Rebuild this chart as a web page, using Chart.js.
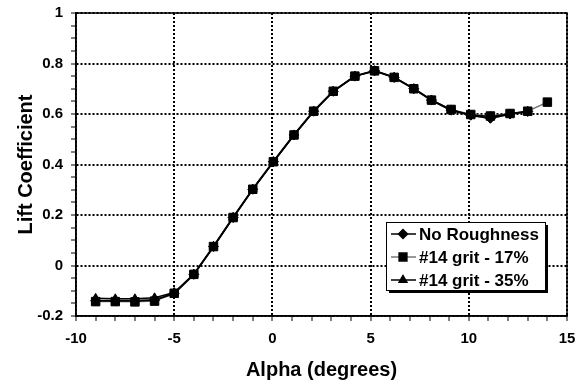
<!DOCTYPE html>
<html>
<head>
<meta charset="utf-8">
<script src="https://cdn.jsdelivr.net/npm/chart.js@4"></script>
<style>
  html, body { margin: 0; padding: 0; background: #fff; }
  #wrap { width: 579px; height: 385px; }
</style>
</head>
<body>
<div id="wrap"><canvas id="chartLift"></canvas></div>
<script>
// ===============================
// Data
// ===============================

const alphaNoRough = [-9, -8, -7, -6, -5, -4, -3, -2, -1, 0.05, 1.1, 2.1, 3.1, 4.2, 5.2, 6.2, 7.2, 8.1, 9.1, 10.1, 11.1, 12.1, 13.0];
const clNoRough    = [-0.14, -0.14, -0.14, -0.137, -0.11, -0.035, 0.075, 0.19, 0.302, 0.411, 0.517, 0.611, 0.69, 0.75, 0.771, 0.745, 0.70, 0.655, 0.615, 0.595, 0.583, 0.60, 0.61];

const alphaGrit17 = [-9, -8, -7, -6, -5, -4, -3, -2, -1, 0.05, 1.1, 2.1, 3.1, 4.2, 5.2, 6.2, 7.2, 8.1, 9.1, 10.1, 11.1, 12.1, 13.0, 14.0];
const clGrit17    = [-0.143, -0.143, -0.144, -0.141, -0.11, -0.035, 0.075, 0.19, 0.302, 0.411, 0.517, 0.611, 0.69, 0.75, 0.771, 0.745, 0.70, 0.655, 0.618, 0.598, 0.592, 0.602, 0.611, 0.647];

const alphaGrit35 = [-9, -8, -7, -6, -5, -4, -3, -2, -1, 0.05, 1.1, 2.1, 3.1, 4.2, 5.2, 6.2, 7.2, 8.1, 9.1, 10.1, 11.1, 12.1, 13.0];
const clGrit35    = [-0.13, -0.132, -0.132, -0.128, -0.107, -0.035, 0.075, 0.19, 0.302, 0.411, 0.517, 0.611, 0.69, 0.75, 0.771, 0.745, 0.70, 0.655, 0.616, 0.596, 0.59, 0.60, 0.61];

const seriesLabels = ["No Roughness", "#14 grit - 17%", "#14 grit - 35%"];

// axis range, major (labelled) steps and minor tick steps
const xRange = [-10, 15];
const xMajor = 5;
const xMinor = 1;
const yRange = [-0.2, 1];
const yMajor = 0.2;
const yMinor = 0.05;

const toPoints = (xs, ys) => xs.map((x, i) => ({ x: x, y: ys[i] }));
const isMajor = (v, step) => Math.abs(v / step - Math.round(v / step)) < 1e-6;

const FONT = "'Liberation Sans', Arial, sans-serif";

// ===============================
// Plugins: frame + legend box
// ===============================

const frame = {
    id: "frame",
    afterDatasetsDraw(chart) {
        const { ctx, chartArea: a } = chart;
        ctx.save();
        ctx.strokeStyle = "#000";
        ctx.lineWidth = 1.5;
        ctx.strokeRect(a.left, a.top, a.right - a.left, a.bottom - a.top);
        ctx.restore();
    }
};

const legendBox = {
    id: "legendBox",
    afterDraw(chart) {
        const { ctx, chartArea: a } = chart;
        const w = 159, h = 68;
        const x = a.right - 181;
        const y = a.bottom - 94;
        ctx.save();
        ctx.fillStyle = "#000";
        ctx.fillRect(x + 3, y + 3, w, h);
        ctx.fillStyle = "#fff";
        ctx.fillRect(x, y, w, h);
        ctx.strokeStyle = "#000";
        ctx.lineWidth = 1;
        ctx.strokeRect(x + 0.5, y + 0.5, w, h);

        chart.data.datasets.forEach((ds, i) => {
            const cy = y + 12 + i * 23;
            ctx.strokeStyle = ds.borderColor;
            ctx.lineWidth = 1.5;
            ctx.beginPath();
            ctx.moveTo(x + 5, cy);
            ctx.lineTo(x + 30, cy);
            ctx.stroke();
            ctx.fillStyle = "#000";
            ctx.strokeStyle = "#000";
            Chart.helpers.drawPoint(ctx, {
                pointStyle: ds.pointStyle,
                radius: ds.pointRadius - 0.5,
                rotation: 0,
                borderWidth: 1
            }, x + 17, cy);
            ctx.fillStyle = "#000";
            ctx.font = "bold 17px " + FONT;
            ctx.textBaseline = "middle";
            ctx.textAlign = "left";
            ctx.fillText(ds.label, x + 33, cy + 1);
        });
        ctx.restore();
    }
};

// ===============================
// Grafik
// ===============================

const ctx = document.getElementById("chartLift");

new Chart(ctx, {
    type: "line",
    data: {
        datasets: [
            {
                label: seriesLabels[0],
                data: toPoints(alphaNoRough, clNoRough),
                borderColor: "#000",
                backgroundColor: "#000",
                borderWidth: 2,
                pointStyle: "rectRot",
                pointRadius: 5,
                pointBorderWidth: 1,
                order: 1
            },
            {
                label: seriesLabels[1],
                data: toPoints(alphaGrit17, clGrit17),
                borderColor: "#777",
                backgroundColor: "#000",
                pointBorderColor: "#000",
                borderWidth: 1.5,
                pointStyle: "rect",
                pointRadius: 6,
                pointBorderWidth: 1,
                order: 2
            },
            {
                label: seriesLabels[2],
                data: toPoints(alphaGrit35, clGrit35),
                borderColor: "#000",
                backgroundColor: "#000",
                borderWidth: 1.5,
                pointStyle: "triangle",
                pointRadius: 5,
                pointBorderWidth: 1,
                order: 0
            }
        ]
    },
    options: {
        responsive: true,
        maintainAspectRatio: false,
        animation: false,
        layout: {
            padding: { top: 13, right: 12, left: 0, bottom: 0 }
        },
        plugins: {
            legend: { display: false },
            tooltip: { enabled: false }
        },
        scales: {
            x: {
                type: "linear",
                min: xRange[0],
                max: xRange[1],
                afterFit: scale => {
                    scale.height = 69;
                    scale.paddingLeft = 0;
                    scale.paddingRight = 0;
                },
                ticks: {
                    stepSize: xMinor,
                    autoSkip: false,
                    maxRotation: 0,
                    padding: 9,
                    color: "#000",
                    font: { family: FONT, size: 15, weight: "bold" },
                    callback: v => isMajor(v, xMajor) ? String(Math.round(v)) : ""
                },
                grid: {
                    color: c => (c.tick && isMajor(c.tick.value, xMajor)) ? "#000" : "rgba(0,0,0,0)",
                    lineWidth: 2,
                    tickColor: "#000",
                    tickLength: 5,
                    tickWidth: 1,
                    tickBorderDash: []
                },
                border: { color: "#000", width: 1.5, dash: [2, 2] },
                title: {
                    display: true,
                    text: "Alpha (degrees)",
                    color: "#000",
                    font: { family: FONT, size: 20, weight: "bold" },
                    padding: { top: 2, bottom: 3 }
                }
            },
            y: {
                type: "linear",
                min: yRange[0],
                max: yRange[1],
                afterFit: scale => {
                    scale.width = 76;
                    scale.paddingTop = 0;
                    scale.paddingBottom = 0;
                },
                ticks: {
                    stepSize: yMinor,
                    autoSkip: false,
                    padding: 8,
                    color: "#000",
                    font: { family: FONT, size: 15, weight: "bold" },
                    callback: v => isMajor(v, yMajor) ? String(Math.round(v * 10) / 10) : ""
                },
                grid: {
                    color: c => (c.tick && isMajor(c.tick.value, yMajor)) ? "#000" : "rgba(0,0,0,0)",
                    lineWidth: 2,
                    tickColor: "#000",
                    tickLength: 5,
                    tickWidth: 1,
                    tickBorderDash: []
                },
                border: { color: "#000", width: 1.5, dash: [2, 2] },
                title: {
                    display: true,
                    text: "Lift Coefficient",
                    color: "#000",
                    font: { family: FONT, size: 20, weight: "bold" },
                    padding: { top: 14, bottom: 4 }
                }
            }
        }
    },
    plugins: [frame, legendBox]
});
</script>
</body>
</html>
